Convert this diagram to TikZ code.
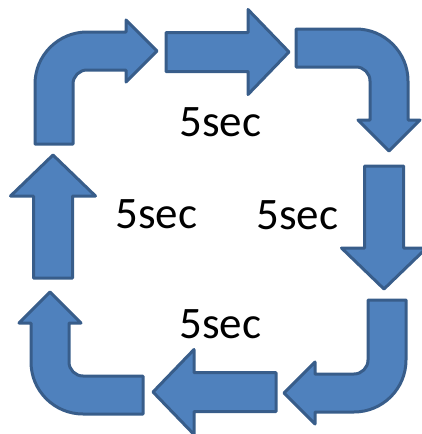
\documentclass[tikz,border=0pt]{standalone}
\usepackage{fontspec}
\setmainfont{Carlito}
\usetikzlibrary{positioning}
\definecolor{arrowblue}{HTML}{4F81BD}
\definecolor{edgeblue}{HTML}{385D8A}

\begin{document}
\begin{tikzpicture}[x=1pt, y=-1pt]
        \tikzstyle{arrowbody} = [fill=arrowblue, draw=edgeblue, line width=3pt, line join=round]
        \tikzstyle{timelabel} = [anchor=base west, inner sep=0pt, font=\fontsize{45}{45}\selectfont]
        \useasboundingbox (0,0) rectangle (422,434);

        % straight arrows
        \foreach \px/\py/\ang in {166/52/0, 384/166/-90, 276/392/180, 53/278/90}{
            \draw[arrowbody, shift={(\px,\py)}, rotate=\ang]
                (0,-19.5) -- (82,-19.5) -- (82,-42.5) -- (123,0) -- (82,42.5)
                -- (82,19.5) -- (0,19.5) -- cycle;
        }

        % bent arrows at the corners
        \foreach \px/\py/\ang in {35/32/0, 408/29/-90, 406/412/180, 31/414/90}{
            \draw[arrowbody, shift={(\px,\py)}, rotate=\ang]
                (0,112) -- (0,52) arc[start angle=180, end angle=90, x radius=52, y radius=-52]
                -- (91,0) -- (91,-12) -- (122,19) -- (91,50) -- (91,38) -- (52,38)
                arc[start angle=90, end angle=180, x radius=14, y radius=-14]
                -- (38,112) -- cycle;
        }

        \node[timelabel] (top) at (179,136) {5sec};
        \node[timelabel] (left) at (115,228) {5sec};
        \node[timelabel] (right) at (256,229) {5sec};
        \node[timelabel] (bottom) at (179,338) {5sec};
    \end{tikzpicture}
\end{document}
